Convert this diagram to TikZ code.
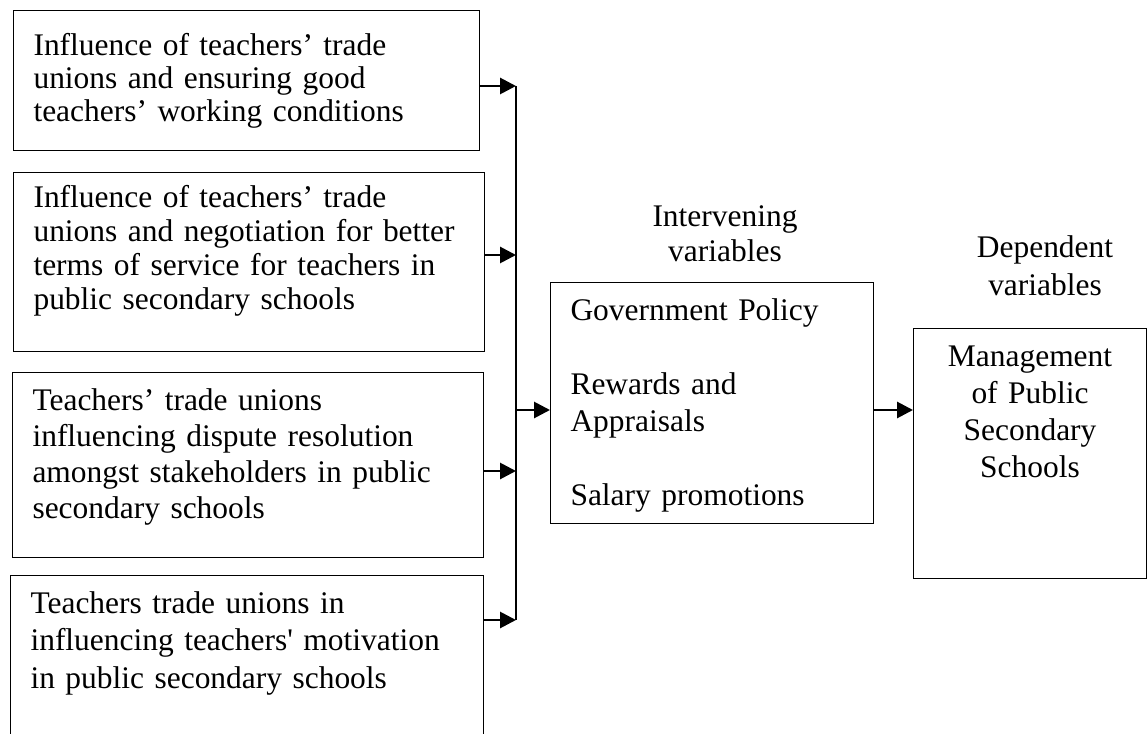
\documentclass[tikz,border=0pt]{standalone}
\usepackage{fontspec}
\setmainfont{Liberation Serif}
\usetikzlibrary{arrows.meta, positioning, calc}

\begin{document}
\begin{tikzpicture}[
		var/.style={draw, line width=0.6pt, anchor=north west, align=left, inner xsep=0.4cm, inner ysep=0pt},
		lead/.style={font=\fontsize{17.9}{#1}\selectfont},
		arr/.style={-{Triangle[length=9pt, width=9pt]}, line width=1.6pt}]
	\useasboundingbox (0,0) rectangle (22.96,14.66);
	\clip (0,0) rectangle (22.96,14.66);

	% Independent variables
	\node[var, lead=18.8pt, text width=8.52cm, text height=0.9cm, text depth=1.9cm] (ind1) at (0.26,14.46) {Influence of teachers' trade\\ unions and ensuring good\\ teachers' working conditions};
	\node[var, lead=19.3pt, text width=8.62cm, text height=0.7cm, text depth=2.88cm] (ind2) at (0.26,11.22) {Influence of teachers' trade\\ unions and negotiation for better\\ terms of service for teachers in\\ public secondary schools};
	\node[var, lead=20.5pt, text width=8.62cm, text height=0.76cm, text depth=2.94cm] (ind3) at (0.24,7.22) {Teachers' trade unions\\ influencing dispute resolution\\ amongst stakeholders in public\\ secondary schools};
	\node[var, lead=21.3pt, text width=8.66cm, text height=0.76cm, text depth=3.5cm] (ind4) at (0.2,3.16) {Teachers trade unions in\\ influencing teachers\textquotesingle{} motivation\\ in public secondary schools};

	% Intervening variables
	\node[lead=19.9pt, anchor=base, text width=5cm, align=center, inner sep=0pt] (midtitle) at (14.5,10.12) {Intervening\\ variables};
	\node[var, lead=21pt, text width=5.66cm, text height=0.76cm, text depth=4.06cm] (mid) at (11.0,9.02) {Government Policy\\[21pt] Rewards and\\ Appraisals\\[21pt] Salary promotions};

	% Dependent variables
	\node[lead=21.6pt, anchor=base, text width=4cm, align=center, inner sep=0pt] (deptitle) at (20.9,9.5) {Dependent\\ variables};
	\node[var, lead=21pt, align=center, text width=3.86cm, text height=0.76cm, text depth=4.24cm] (dep) at (18.26,8.1) {Management\\ of Public\\ Secondary\\ Schools};

	% Bus line
	\coordinate (j1) at (10.32,12.94);
	\coordinate (j2) at (10.32,9.56);
	\coordinate (jm) at (10.32,6.46);
	\coordinate (j3) at (10.32,5.24);
	\coordinate (j4) at (10.32,2.26);
	\draw[line width=0.6pt] (j1) -- (j4);

	\draw[arr] (ind1.east |- j1) -- (j1);
	\draw[arr] (ind2.east |- j2) -- (j2);
	\draw[arr] (ind3.east |- j3) -- (j3);
	\draw[arr] (ind4.east |- j4) -- (j4);
	\draw[arr] (jm) -- (mid.west |- jm);
	\draw[arr] (mid.east |- jm) -- (dep.west |- jm);
\end{tikzpicture}
\end{document}
